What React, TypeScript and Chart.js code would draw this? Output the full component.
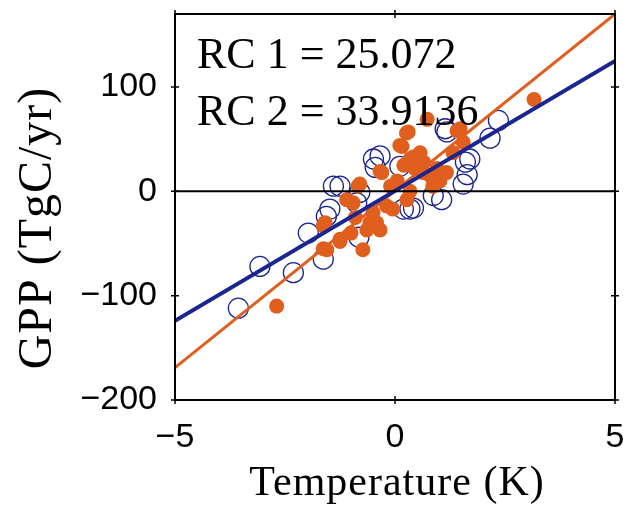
import React, { useEffect, useRef } from "react";
import { Chart, registerables } from "chart.js";

Chart.register(...registerables);

// ---- data ----
const xTicks = [-5, 0, 5];
const yTicks = [-200, -100, 0, 100];
const xRange = [-5, 5];
const yRange = [-200, 170];

const blueX = [-3.56, -3.07, -2.31, -1.97, -1.63, -1.56, -1.48, -1.4, -1.25, -0.87, -0.82, -0.8, -0.49, -0.45, -0.34, 0.11, 0.19, 0.34, 0.42, 0.87, 1.06, 1.14, 1.18, 1.55, 1.6, 1.7, 1.64, 2.16, 2.35];
const blueY = [-112, -72, -78, -40, -65, -24, -17, 5, 5, -11, -44, -1, 31, 23, 34, 24, -17, -17, -16, -4, -8, 60, 57, 7, 28, 31, 16, 51, 68];

const orangeX = [-2.69, -1.63, -1.63, -1.59, -1.55, -1.25, -1.25, -1.1, -1.0, -0.95, -0.9, -0.84, -0.8, -0.73, -0.64, -0.57, -0.5, -0.42, -0.34, -0.34, -0.3, -0.19, -0.1, -0.05, 0.05, 0.11, 0.16, 0.2, 0.26, 0.27, 0.3, 0.34, 0.34, 0.42, 0.45, 0.57, 0.57, 0.64, 0.65, 0.73, 0.8, 0.86, 0.95, 1.02, 1.17, 1.32, 1.41, 1.48, 1.55, 3.16];
const orangeY = [-110, -33, -55, -30, -56, -48, -46, -8, -40, -11, -25, 5, 7, -56, -37, -30, -20, -30, -37, 19, 18, -14, 5, -17, 10, 44, 43, 25, 56, -8, 57, 31, 0, 33, 22, 29, 37, 18, 28, 69, 15, 5, 22, 10, 18, 37, 58, 60, 47, 88];

const fitX = [-5, 5];
const blueFitY = [-124, 125];
const orangeFitY = [-169, 170];

const rcLabels = ["RC 1 = 25.072", "RC 2 = 33.9136"];
const xTitle = "Temperature (K)";
const yTitle = "GPP (TgC/yr)";

const BLUE = "#1b2590";
const ORANGE = "#e05f1e";

const zip = (xs: number[], ys: number[]) => xs.map((x, i) => ({ x, y: ys[i] }));
const fmt = (v: number) => String(v).replace("-", "\u2212");
const SERIF = "'Liberation Serif', 'Times New Roman', serif";

const framePlugin = {
  id: "frame",
  afterDatasetsDraw(chart: any) {
    const { ctx, chartArea: a, scales } = chart;
    const xs = scales.x, ys = scales.y;
    ctx.save();
    ctx.strokeStyle = "#000";
    ctx.lineWidth = 2;
    const y0 = ys.getPixelForValue(0);
    ctx.beginPath();
    ctx.moveTo(a.left, y0);
    ctx.lineTo(a.right, y0);
    ctx.stroke();
    ctx.strokeRect(a.left, a.top, a.right - a.left, a.bottom - a.top);
    ctx.lineWidth = 1.5;
    ctx.beginPath();
    yTicks.forEach((v) => {
      const p = ys.getPixelForValue(v);
      ctx.moveTo(a.left - 4, p); ctx.lineTo(a.left + 4, p);
      ctx.moveTo(a.right - 4, p); ctx.lineTo(a.right + 4, p);
    });
    xTicks.forEach((v) => {
      const p = xs.getPixelForValue(v);
      ctx.moveTo(p, a.bottom - 4); ctx.lineTo(p, a.bottom + 4);
      ctx.moveTo(p, a.top - 4); ctx.lineTo(p, a.top + 4);
    });
    ctx.stroke();
    ctx.fillStyle = "#000";
    ctx.font = "44px " + SERIF;
    ctx.textAlign = "left";
    ctx.textBaseline = "alphabetic";
    ctx.fillText(rcLabels[0], a.left + 22, a.top + 54);
    ctx.fillText(rcLabels[1], a.left + 22, a.top + 111);
    ctx.font = "42px " + SERIF;
    (ctx as any).letterSpacing = "1px";
    ctx.textAlign = "center";
    ctx.textBaseline = "middle";
    ctx.fillText(xTitle, (a.left + a.right) / 2 + 2, 484);
    ctx.save();
    ctx.translate(38, 228);
    ctx.rotate(-Math.PI / 2);
    ctx.font = "48px " + SERIF;
    (ctx as any).letterSpacing = "1px";
    ctx.fillText(yTitle, 0, 0);
    ctx.restore();
    ctx.restore();
  },
};

export default function App() {
  const ref = useRef<HTMLCanvasElement | null>(null);
  useEffect(() => {
    if (!ref.current) return;
    const tickFont = { family: "'Liberation Sans', Arial, sans-serif", size: 34 };
    const chart = new Chart(ref.current, {
      type: "scatter",
      data: {
        datasets: [
          {
            type: "line",
            data: zip(fitX, blueFitY),
            borderColor: BLUE,
            borderWidth: 4,
            pointRadius: 0,
            order: 0,
          } as any,
          {
            type: "line",
            data: zip(fitX, orangeFitY),
            borderColor: ORANGE,
            borderWidth: 3,
            pointRadius: 0,
            order: 1,
          } as any,
          {
            data: zip(orangeX, orangeY),
            backgroundColor: ORANGE,
            borderColor: ORANGE,
            borderWidth: 0,
            pointRadius: 7.5,
            order: 2,
          },
          {
            data: zip(blueX, blueY),
            backgroundColor: "rgba(0,0,0,0)",
            borderColor: BLUE,
            borderWidth: 1.3,
            pointRadius: 10,
            order: 3,
          },
        ],
      },
      options: {
        responsive: false,
        animation: false,
        layout: { padding: { top: 14, right: 16, left: 0, bottom: 0 } },
        plugins: { legend: { display: false }, tooltip: { enabled: false } },
        scales: {
          x: {
            type: "linear",
            min: xRange[0],
            max: xRange[1],
            grid: { display: false, drawTicks: false },
            border: { display: false },
            afterFit: (s: any) => { s.height = 112; s.paddingLeft = 0; s.paddingRight = 0; },
            afterBuildTicks: (s: any) => { s.ticks = xTicks.map((v) => ({ value: v })); },
            ticks: { color: "#000", font: tickFont, padding: 17, maxRotation: 0, autoSkip: false, callback: (v: any) => fmt(v) },
          },
          y: {
            type: "linear",
            min: yRange[0],
            max: yRange[1],
            grid: { display: false, drawTicks: false },
            border: { display: false },
            afterFit: (s: any) => { s.width = 175; s.paddingTop = 0; s.paddingBottom = 0; },
            afterBuildTicks: (s: any) => { s.ticks = yTicks.map((v) => ({ value: v })); },
            ticks: { color: "#000", font: tickFont, padding: 18, autoSkip: false, callback: (v: any) => fmt(v) },
          },
        },
      },
      plugins: [framePlugin],
    });
    return () => chart.destroy();
  }, []);
  return (
    <div style={{ position: "absolute", left: 0, top: 0, width: 631, height: 512, background: "#fff" }}>
      <canvas ref={ref} width={631} height={512} />
    </div>
  );
}
